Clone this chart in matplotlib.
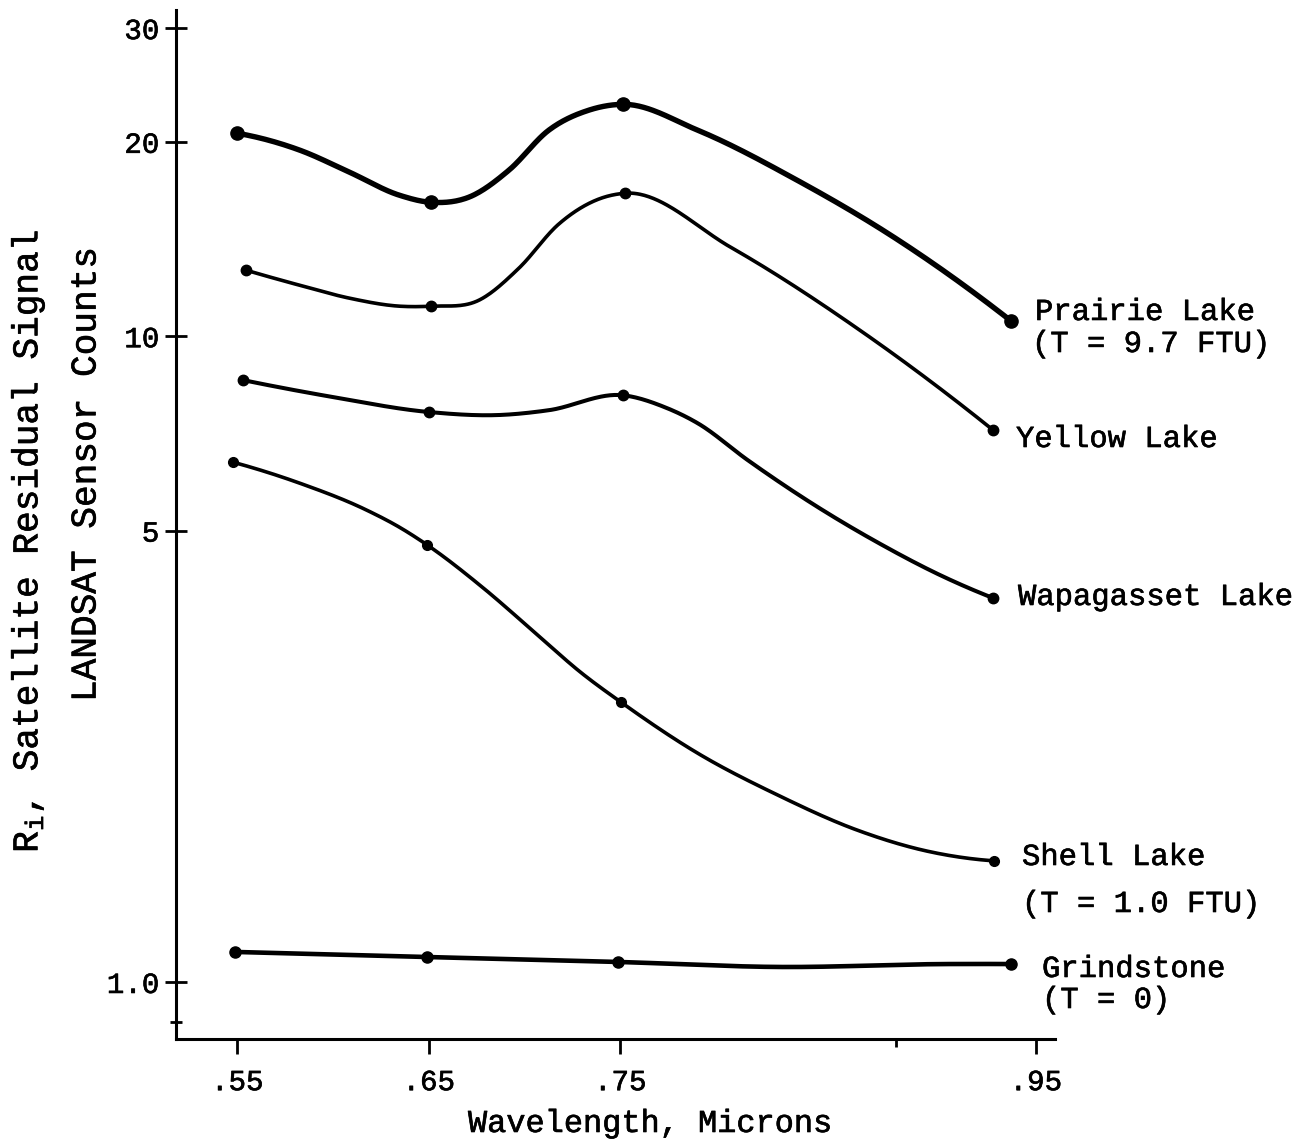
import numpy as np
import matplotlib
matplotlib.use("Agg")
import matplotlib.pyplot as plt
import matplotlib.patheffects as pe
from matplotlib.ticker import FixedLocator, FixedFormatter, NullFormatter

plt.rcParams["font.family"] = ["Liberation Mono", "DejaVu Sans Mono"]
plt.rcParams["mathtext.fontset"] = "custom"
plt.rcParams["mathtext.rm"] = "Liberation Mono"
plt.rcParams["mathtext.it"] = "Liberation Mono"

# ---- measured points (wavelength in microns, residual signal in counts) ----
prairie_wl = [0.5500, 0.6513, 0.7516, 0.9542]
prairie_val = [20.62, 16.12, 22.86, 10.55]
yellow_wl = [0.5547, 0.6513, 0.7526, 0.9448]
yellow_val = [12.65, 11.13, 16.65, 7.15]
wapagasset_wl = [0.5531, 0.6503, 0.7516, 0.9448]
wapagasset_val = [8.55, 7.63, 8.10, 3.93]
shell_wl = [0.5479, 0.6492, 0.7505, 0.9453]
shell_val = [6.38, 4.75, 2.71, 1.54]
grindstone_wl = [0.5490, 0.6492, 0.7490, 0.9542]
grindstone_val = [1.113, 1.093, 1.074, 1.066]

# ---- hand-drawn curves, read along each line of the figure ----
prairie_curve_wl = [0.5500, 0.5827, 0.6087, 0.6347, 0.6513, 0.6710, 0.6918, 0.7126,
                    0.7334, 0.7516, 0.7905, 0.8425, 0.8929, 0.9542]
prairie_curve_val = [20.62, 19.41, 17.94, 16.53, 16.12, 16.42, 18.07, 20.84,
                     22.38, 22.86, 20.84, 17.43, 14.23, 10.55]
yellow_curve_wl = [0.5547, 0.5827, 0.6087, 0.6347, 0.6513, 0.6762, 0.6970, 0.7178,
                   0.7386, 0.7526, 0.8077, 0.8773, 0.9448]
yellow_curve_val = [12.65, 11.99, 11.45, 11.13, 11.13, 11.37, 12.74, 14.91,
                    16.30, 16.65, 13.73, 10.11, 7.15]
wapagasset_curve_wl = [0.5531, 0.5999, 0.6503, 0.6866, 0.7126, 0.7516, 0.7734, 0.7905,
                       0.8165, 0.8513, 0.8840, 0.9204, 0.9448]
wapagasset_curve_val = [8.55, 8.05, 7.63, 7.55, 7.68, 8.10, 7.76, 7.33,
                        6.43, 5.48, 4.80, 4.22, 3.93]
shell_curve_wl = [0.5479, 0.5827, 0.6175, 0.6347, 0.6492, 0.6778, 0.7038, 0.7297,
                  0.7505, 0.7905, 0.8321, 0.8736, 0.9100, 0.9453]
shell_curve_val = [6.38, 5.92, 5.38, 5.06, 4.75, 4.09, 3.51, 3.01,
                   2.71, 2.26, 1.948, 1.719, 1.595, 1.54]
grindstone_curve_wl = [0.5490, 0.6492, 0.7490, 0.8321, 0.9204, 0.9542]
grindstone_curve_val = [1.113, 1.093, 1.074, 1.055, 1.066, 1.066]

x_ticks = [0.55, 0.65, 0.75, 0.967]
x_tick_labels = [".55", ".65", ".75", ".95"]
x_minor = [0.894]
y_ticks = [1.0, 5, 10, 20, 30]
y_tick_labels = ["1.0", "5", "10", "20", "30"]
y_minor = [0.867]


def smooth_curve(x, y, xs):
    """Cubic Hermite curve through the traced points (three-point tangents)."""
    x = np.asarray(x, float)
    y = np.asarray(y, float)
    h = np.diff(x)
    d = np.diff(y) / h
    n = len(x)
    m = np.zeros(n)
    for k in range(1, n - 1):
        m[k] = (d[k - 1] * h[k] + d[k] * h[k - 1]) / (h[k - 1] + h[k])
    m[0] = ((2 * h[0] + h[1]) * d[0] - h[0] * d[1]) / (h[0] + h[1])
    m[-1] = ((2 * h[-1] + h[-2]) * d[-1] - h[-1] * d[-2]) / (h[-1] + h[-2])
    idx = np.clip(np.searchsorted(x, xs) - 1, 0, n - 2)
    t = (xs - x[idx]) / h[idx]
    h00 = 2 * t**3 - 3 * t**2 + 1
    h10 = t**3 - 2 * t**2 + t
    h01 = -2 * t**3 + 3 * t**2
    h11 = t**3 - t**2
    return h00 * y[idx] + h10 * h[idx] * m[idx] + h01 * y[idx + 1] + h11 * h[idx] * m[idx + 1]


W, H = 1316, 1144
fig = plt.figure(figsize=(W / 100, H / 100), dpi=100)
ax = fig.add_axes([176 / W, 1 - 1039 / H, (1055 - 176) / W, (1039 - 10) / H])

series = [
    (prairie_curve_wl, prairie_curve_val, prairie_wl, prairie_val, 3.9, 9.5),
    (yellow_curve_wl, yellow_curve_val, yellow_wl, yellow_val, 2.6, 7.5),
    (wapagasset_curve_wl, wapagasset_curve_val, wapagasset_wl, wapagasset_val, 2.9, 7.5),
    (shell_curve_wl, shell_curve_val, shell_wl, shell_val, 2.6, 7),
    (grindstone_curve_wl, grindstone_curve_val, grindstone_wl, grindstone_val, 3.3, 8),
]
for cwl, cval, wl, val, lw, ms in series:
    xs = np.linspace(cwl[0], cwl[-1], 500)
    ys = 10 ** smooth_curve(cwl, np.log10(cval), xs)
    ax.plot(xs, ys, color="black", lw=lw, solid_capstyle="round")
    ax.plot(wl, val, "o", color="black", ms=ms)

ax.set_yscale("log")
ax.set_xlim(0.518, 0.977)
ax.set_ylim(0.816, 32)

ax.xaxis.set_major_locator(FixedLocator(x_ticks))
ax.xaxis.set_major_formatter(FixedFormatter(x_tick_labels))
ax.xaxis.set_minor_locator(FixedLocator(x_minor))
ax.xaxis.set_minor_formatter(NullFormatter())
ax.yaxis.set_major_locator(FixedLocator(y_ticks))
ax.yaxis.set_major_formatter(FixedFormatter(y_tick_labels))
ax.yaxis.set_minor_locator(FixedLocator(y_minor))
ax.yaxis.set_minor_formatter(NullFormatter())

for s in ["top", "right"]:
    ax.spines[s].set_visible(False)
for s in ["left", "bottom"]:
    ax.spines[s].set_linewidth(2.2)

thick = [pe.withStroke(linewidth=0.45, foreground="black")]

ax.tick_params(axis="x", which="major", direction="out", length=11, width=2,
               labelsize=21, pad=10)
ax.tick_params(axis="x", which="minor", direction="out", length=6, width=2)
ax.tick_params(axis="y", which="major", direction="inout", length=16, width=2,
               labelsize=21, pad=4)
ax.tick_params(axis="y", which="minor", direction="inout", length=8, width=2)
for lab in ax.get_xticklabels() + ax.get_yticklabels():
    lab.set_path_effects(thick)

fig.text(468 / W, 1 - 1132 / H, "Wavelength, Microns", ha="left", va="baseline",
         fontsize=23, path_effects=thick)

fig.text(28 / W, 1 - 541 / H, r"R$_\mathrm{i}$, Satellite Residual Signal",
         rotation=90, ha="center", va="center", fontsize=26, path_effects=thick)
fig.text(86 / W, 1 - 475 / H, "LANDSAT Sensor Counts",
         rotation=90, ha="center", va="center", fontsize=26, path_effects=thick)

labels = [
    (1035, 320, "Prairie Lake"),
    (1032, 352, "(T = 9.7 FTU)"),
    (1016, 447, "Yellow Lake"),
    (1018, 605, "Wapagasset Lake"),
    (1022, 865, "Shell Lake"),
    (1022, 912, "(T = 1.0 FTU)"),
    (1042, 977, "Grindstone"),
    (1042, 1008, "(T = 0)"),
]
for px, py, txt in labels:
    fig.text(px / W, 1 - py / H, txt, ha="left", va="baseline", fontsize=22,
             path_effects=thick)

fig.savefig("out.png", dpi=100)
